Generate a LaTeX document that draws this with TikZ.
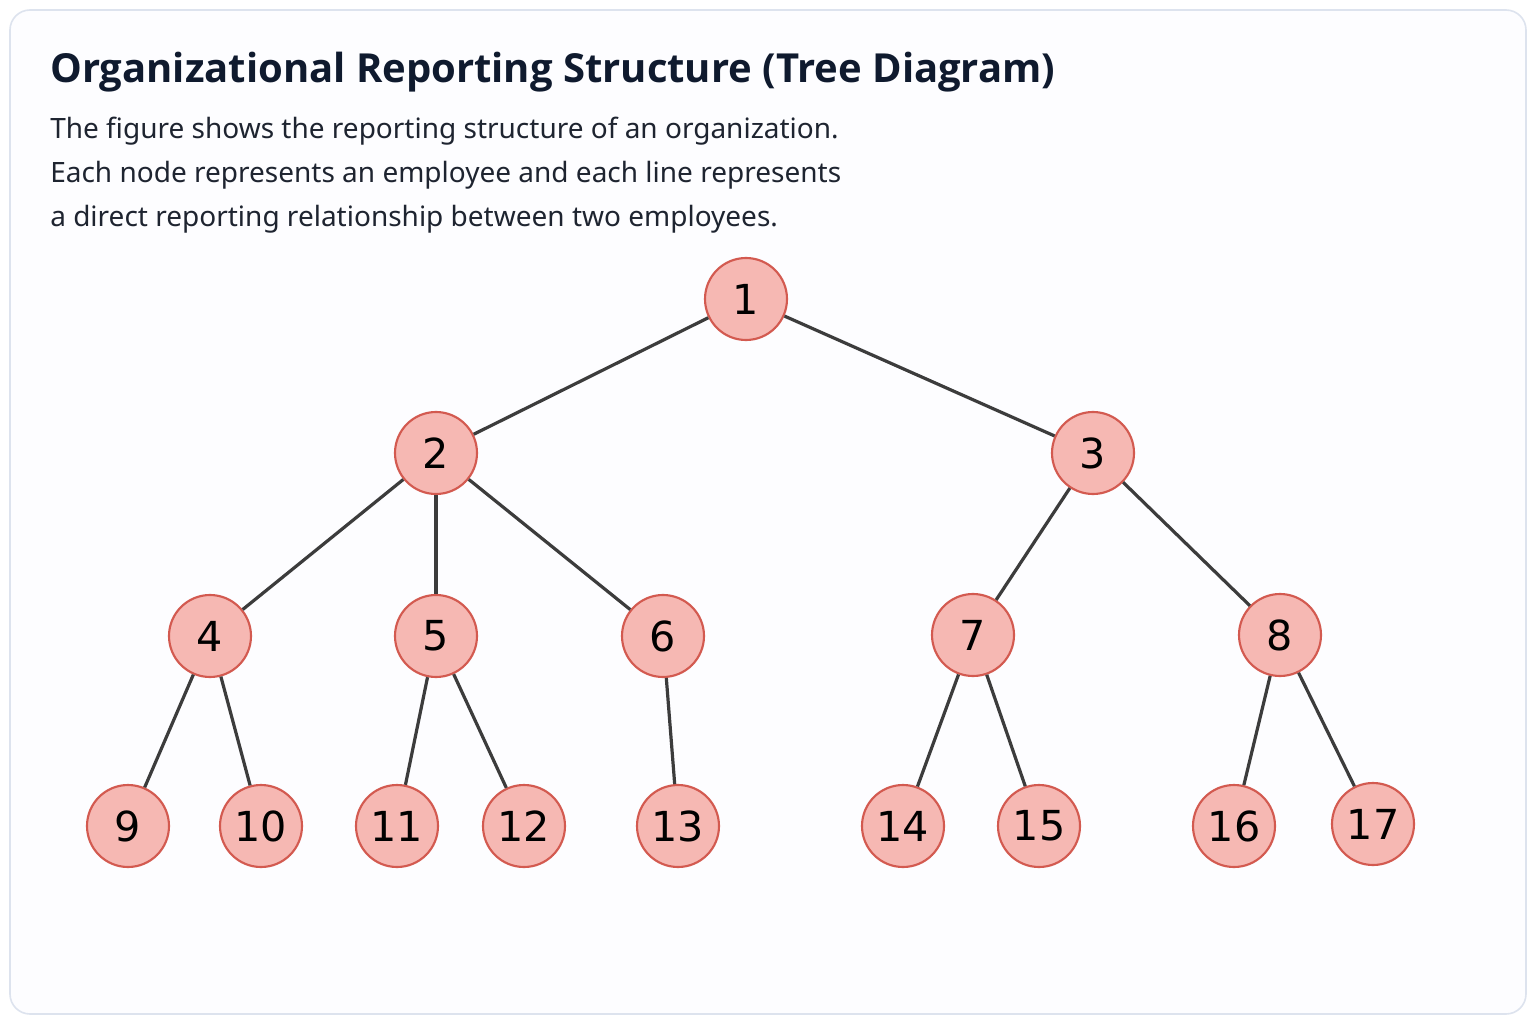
\documentclass[tikz,border=0pt]{standalone}
\usepackage{fontspec}
\setmainfont{Noto Sans}
\newfontfamily\titlefont{Open Sans}
\newfontfamily\numfont{DejaVu Sans}
\begin{document}
\begin{tikzpicture}[x=0.75pt,y=-0.75pt,
  emp/.style={circle,draw=nodeborder,fill=nodefill,line width=1.6pt,minimum size=61.5pt,inner sep=0pt,font=\numfont\fontsize{31}{31}\selectfont,text=black},
  link/.style={draw=edgecol,line width=2.4pt},
  ttl/.style={anchor=base west,inner sep=0pt,text=titlecol,font=\titlefont\bfseries\fontsize{30}{36}\selectfont},
  body/.style={anchor=base west,inner sep=0pt,text=bodycol,font=\fontsize{21}{24}\selectfont}]
\definecolor{nodefill}{HTML}{F6B8B3}
\definecolor{nodeborder}{HTML}{D35A50}
\definecolor{edgecol}{HTML}{3C3C3C}
\definecolor{titlecol}{HTML}{0F1A2E}
\definecolor{bodycol}{HTML}{1E2430}
\definecolor{framecol}{HTML}{DDE3EE}
\useasboundingbox (0,0) rectangle (1536,1024);
\fill[white] (0,0) rectangle (1536,1024);
\draw[framecol,line width=1.2pt,fill=white!97!blue!30!white,rounded corners=15pt] (10,10) rectangle (1526,1014);
\node[ttl] (title) at (50,83) {Organizational Reporting Structure (Tree Diagram)};
\node[body] (l1) at (50,138) {The figure shows the reporting structure of an organization.};
\node[body] (l2) at (50,182) {Each node represents an employee and each line represents};
\node[body] (l3) at (50,226) {a direct reporting relationship between two employees.};
\node[emp] (n1) at (746,299) {1};
\node[emp] (n2) at (436,453) {2};
\node[emp] (n3) at (1093,453) {3};
\node[emp] (n4) at (210,636) {4};
\node[emp] (n5) at (436,636) {5};
\node[emp] (n6) at (663,636) {6};
\node[emp] (n7) at (973,635) {7};
\node[emp] (n8) at (1280,635) {8};
\node[emp] (n9) at (128,826) {9};
\node[emp] (n10) at (261,826) {10};
\node[emp] (n11) at (397,826) {11};
\node[emp] (n12) at (524,826) {12};
\node[emp] (n13) at (678,826) {13};
\node[emp] (n14) at (903,826) {14};
\node[emp] (n15) at (1039,826) {15};
\node[emp] (n16) at (1234,826) {16};
\node[emp] (n17) at (1373,824) {17};
\foreach \a/\b in {n1/n2,n1/n3,n2/n4,n2/n5,n2/n6,n3/n7,n3/n8,n4/n9,n4/n10,n5/n11,n5/n12,n6/n13,n7/n14,n7/n15,n8/n16,n8/n17}
  \draw[link] (\a) -- (\b);
\end{tikzpicture}
\end{document}
